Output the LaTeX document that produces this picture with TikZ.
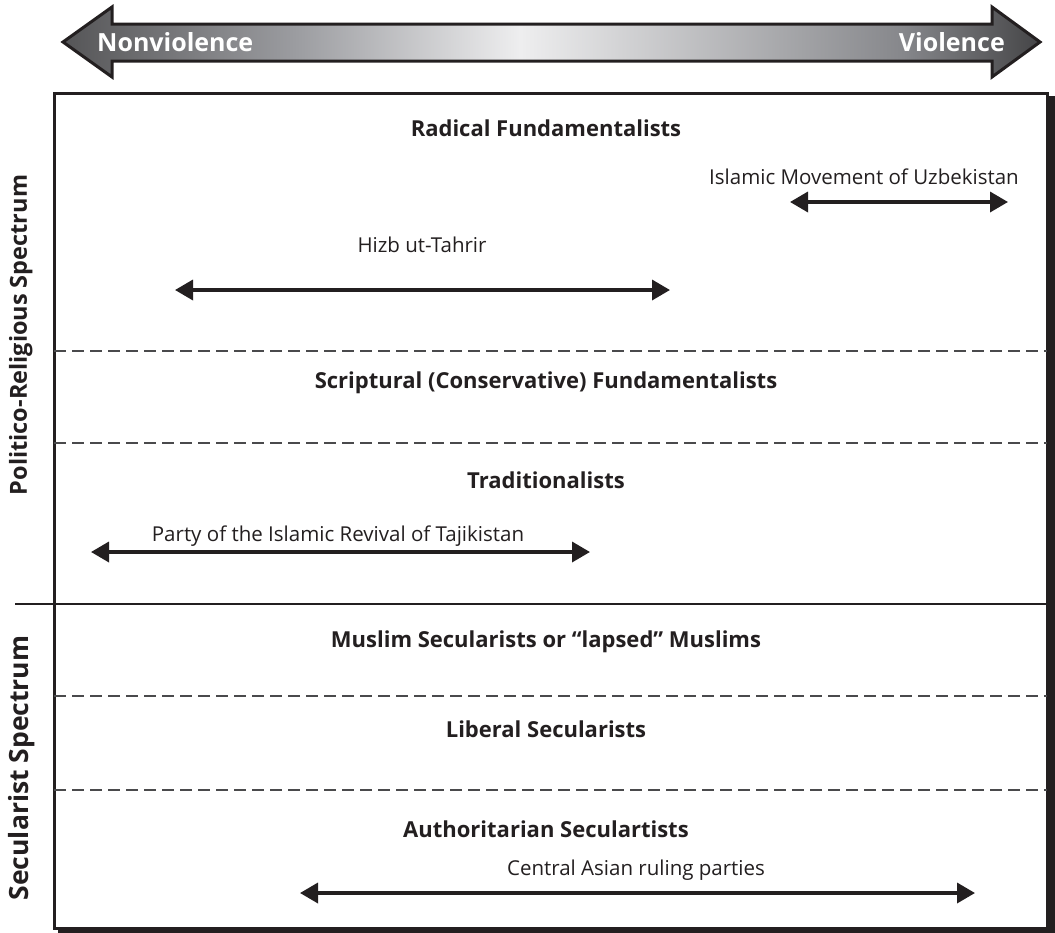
\documentclass[tikz,border=0pt]{standalone}
\usepackage{fontspec}
\setmainfont{Open Sans}
\usepackage{tikz}
\usetikzlibrary{arrows.meta}
\definecolor{inkblack}{HTML}{231F20}
\definecolor{rulegray}{HTML}{4A4A4C}
\definecolor{shadeleft}{HTML}{555557}
\definecolor{shademid}{HTML}{9C9DA1}
\definecolor{shadelight}{HTML}{EEEEEF}
\definecolor{shademidr}{HTML}{86878B}
\definecolor{shaderight}{HTML}{454547}
% gray band of the top arrow, lightest a little left of the middle
\pgfdeclarehorizontalshading{spectrumshade}{100bp}{color(0bp)=(shadeleft); color(25bp)=(shadeleft); color(37bp)=(shademid); color(48.4bp)=(shadelight); color(68bp)=(shademidr); color(75bp)=(shaderight); color(100bp)=(shaderight)}
\tikzset{
    category/.style = {font=\bfseries\fontsize{22}{26}\selectfont, text=inkblack, anchor=base, inner sep=0pt},
    group/.style = {font=\fontsize{20.5}{25}\selectfont, text=inkblack, anchor=base, inner sep=0pt},
    spectrum/.style = {font=\bfseries\fontsize{24.5}{29}\selectfont, text=inkblack, rotate=90, anchor=base, inner sep=0pt},
    polelabel/.style = {font=\bfseries\fontsize{25}{30}\selectfont, text=white, inner sep=0pt},
    span/.style = {{Triangle[length=18pt,width=20pt]}-{Triangle[length=18pt,width=20pt]}, line width=3.5pt, draw=inkblack},
    divider/.style = {draw=rulegray, line width=1.2pt, dash pattern=on 12pt off 6pt},
    frame/.style = {draw=inkblack, line width=3pt, fill=white}
}
\begin{document}
\begin{tikzpicture}[x=1pt, y=-1pt]
\useasboundingbox (0,0) rectangle (1055,932);
\clip (0,0) rectangle (1055,932);

% top arrow
\draw[inkblack, line width=3pt, line join=miter, shading=spectrumshade]
  (63,42) -- (112,7) -- (112,24) -- (992,24) -- (992,7) -- (1040,42)
  -- (992,77) -- (992,61) -- (112,61) -- (112,77) -- cycle;
\node[polelabel, anchor=base west] (nonviolence) at (97,51) {Nonviolence};
\node[polelabel, anchor=base east] (violence) at (1005,51) {Violence};

% frame with its shadow
\fill[inkblack] (58,96) rectangle (1058,936);
\draw[frame] (54,93) rectangle (1047,928);

% band lines
\draw[divider] (54,351) -- (1047,351);
\draw[divider] (54,443) -- (1047,443);
\draw[inkblack, line width=2pt] (15,604) -- (1047,604);
\draw[divider] (54,696) -- (1047,696);
\draw[divider] (54,790) -- (1047,790);

\node[spectrum, font=\bfseries\fontsize{23.5}{28}\selectfont] (politico) at (27,335) {Politico-Religious Spectrum};
\node[spectrum, font=\bfseries\fontsize{26.5}{31}\selectfont] (secularist) at (28,768) {Secularist Spectrum};

\node[category] (radical) at (546,136) {Radical Fundamentalists};
\node[category] (scriptural) at (546,388) {Scriptural (Conservative) Fundamentalists};
\node[category] (traditional) at (546,488) {Traditionalists};
\node[category] (lapsed) at (546,647) {Muslim Secularists or ``lapsed'' Muslims};
\node[category] (liberal) at (546,737) {Liberal Secularists};
\node[category] (authoritarian) at (546,837) {Authoritarian Seculartists};

\node[group] (imu) at (864,184) {Islamic Movement of Uzbekistan};
\node[group] (hizb) at (422,252) {Hizb ut-Tahrir};
\node[group] (party) at (338,541) {Party of the Islamic Revival of Tajikistan};
\node[group] (ruling) at (636,875) {Central Asian ruling parties};

\coordinate (imuW) at (790,202);
\coordinate (imuE) at (1008,202);
\coordinate (hizbW) at (175,290);
\coordinate (hizbE) at (670,290);
\coordinate (partyW) at (91,552);
\coordinate (partyE) at (590,552);
\coordinate (rulingW) at (300,893);
\coordinate (rulingE) at (975,893);

\draw[span] (imuW) -- (imuE);
\draw[span] (hizbW) -- (hizbE);
\draw[span] (partyW) -- (partyE);
\draw[span] (rulingW) -- (rulingE);

\end{tikzpicture}
\end{document}
